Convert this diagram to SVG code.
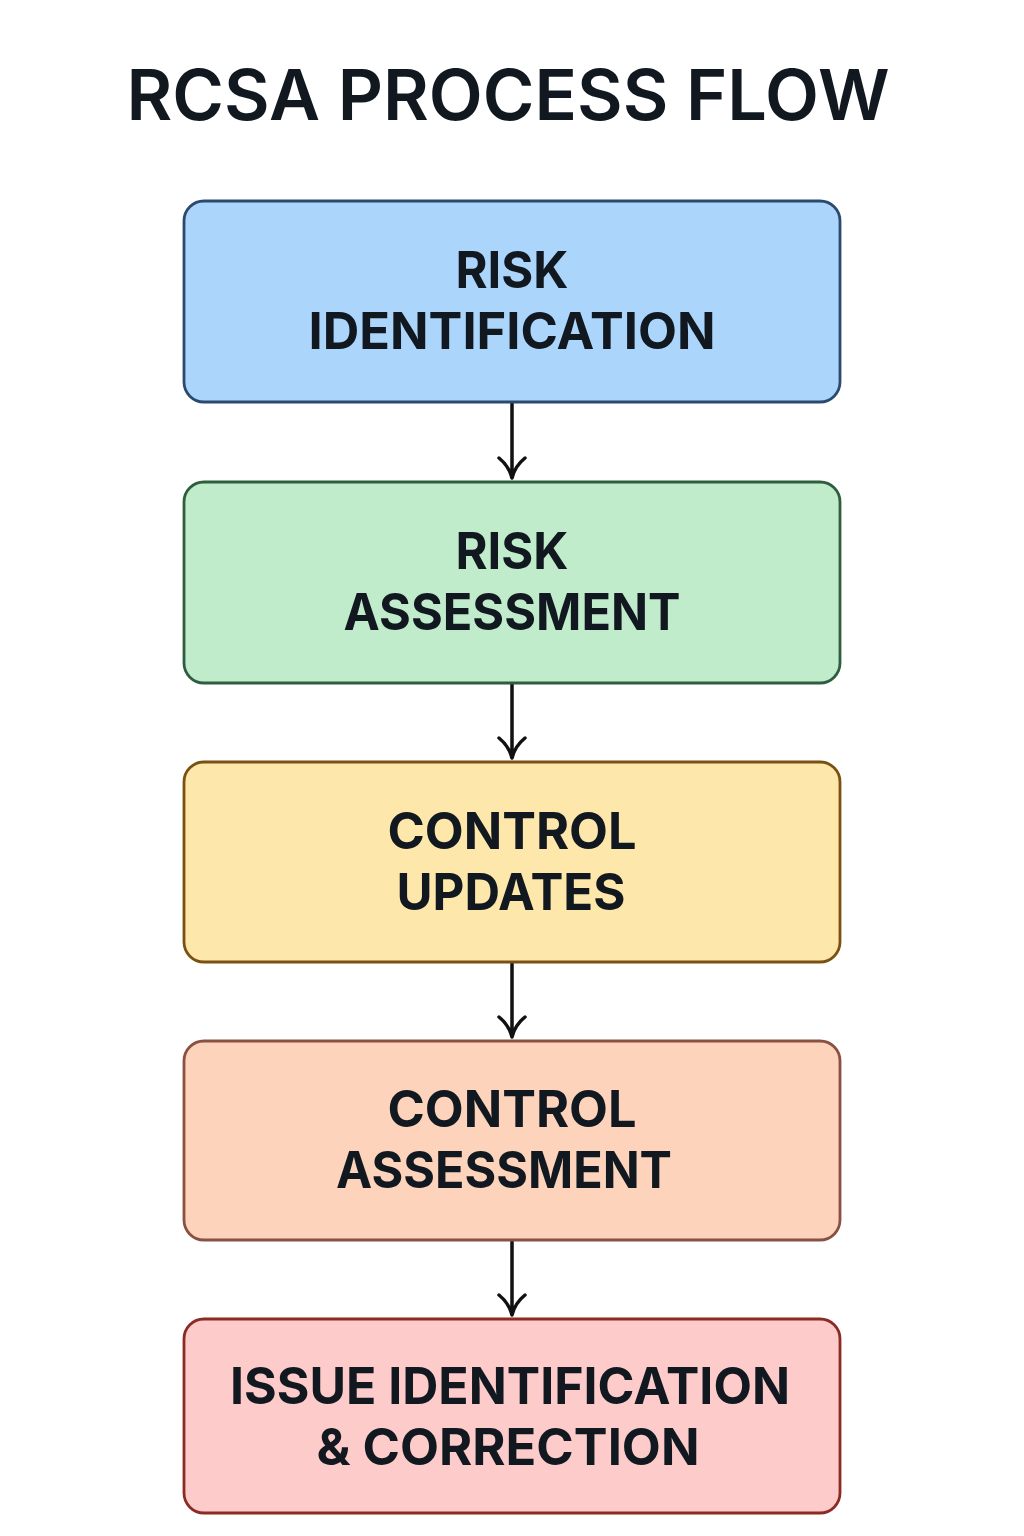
<svg xmlns="http://www.w3.org/2000/svg" width="1024" height="1536" viewBox="0 0 1024 1536">
<defs>
<style>
.title{font-family:Inter,"Noto Sans","Liberation Sans",sans-serif;font-weight:600;font-size:70px;fill:#111820;text-anchor:middle}
.lbl{font-family:Inter,"Noto Sans","Liberation Sans",sans-serif;font-weight:700;font-size:51px;fill:#111820;text-anchor:middle}
.box{stroke-width:2.8}
.conn{stroke:#111;stroke-width:3.5;fill:none;stroke-linecap:round;stroke-linejoin:round}
</style>
</defs>
<rect width="1024" height="1536" fill="#ffffff"/>
<text class="title" x="508" y="120" textLength="763" lengthAdjust="spacingAndGlyphs">RCSA PROCESS FLOW</text>
<g id="connectors">
<path class="conn" d="M512 403 V478 M499 458 Q509 466 512 478 Q515 466 525 458"/>
<path class="conn" d="M512 684 V758 M499 738 Q509 746 512 758 Q515 746 525 738"/>
<path class="conn" d="M512 963 V1037 M499 1017 Q509 1025 512 1037 Q515 1025 525 1017"/>
<path class="conn" d="M512 1241 V1315 M499 1295 Q509 1303 512 1315 Q515 1303 525 1295"/>
</g>
<g id="node1">
<rect class="box" x="184" y="201" width="656" height="201" rx="20" fill="#acd5fb" stroke="#2b4a6d"/>
<text class="lbl" x="512" y="288" textLength="113" lengthAdjust="spacingAndGlyphs">RISK</text>
<text class="lbl" x="512" y="349" textLength="407" lengthAdjust="spacingAndGlyphs">IDENTIFICATION</text>
</g>
<g id="node2">
<rect class="box" x="184" y="482" width="656" height="201" rx="20" fill="#c1eccb" stroke="#2f5e3f"/>
<text class="lbl" x="512" y="569" textLength="113" lengthAdjust="spacingAndGlyphs">RISK</text>
<text class="lbl" x="512" y="630" textLength="337" lengthAdjust="spacingAndGlyphs">ASSESSMENT</text>
</g>
<g id="node3">
<rect class="box" x="184" y="762" width="656" height="200" rx="20" fill="#fde7ab" stroke="#7b5112"/>
<text class="lbl" x="512" y="849" textLength="249" lengthAdjust="spacingAndGlyphs">CONTROL</text>
<text class="lbl" x="511" y="910" textLength="229" lengthAdjust="spacingAndGlyphs">UPDATES</text>
</g>
<g id="node4">
<rect class="box" x="184" y="1041" width="656" height="199" rx="20" fill="#fdd3bc" stroke="#8a5142"/>
<text class="lbl" x="512" y="1127" textLength="249" lengthAdjust="spacingAndGlyphs">CONTROL</text>
<text class="lbl" x="504" y="1188" textLength="336" lengthAdjust="spacingAndGlyphs">ASSESSMENT</text>
</g>
<g id="node5">
<rect class="box" x="184" y="1319" width="656" height="194" rx="20" fill="#fdcbca" stroke="#8b2b24"/>
<text class="lbl" x="510" y="1404" textLength="560" lengthAdjust="spacingAndGlyphs">ISSUE IDENTIFICATION</text>
<text class="lbl" x="508" y="1465" textLength="383" lengthAdjust="spacingAndGlyphs">&amp; CORRECTION</text>
</g>
</svg>
